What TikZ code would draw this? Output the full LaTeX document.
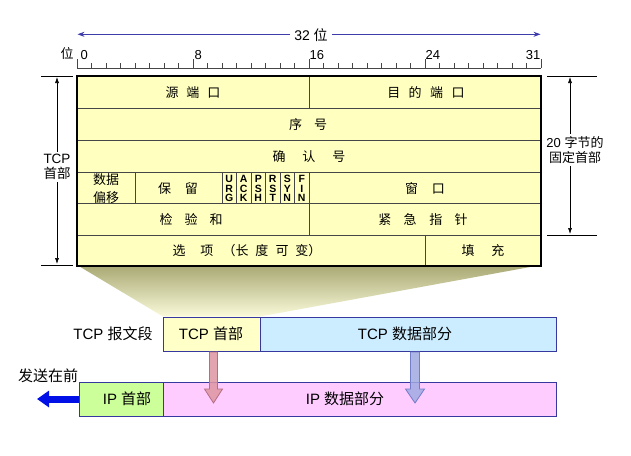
\documentclass[tikz,border=0pt]{standalone}
\usepackage{fontspec}
\setmainfont{Liberation Sans}
\newfontfamily\cjk{Noto Sans CJK SC}
\usetikzlibrary{arrows.meta,calc}
\definecolor{tblfill}{RGB}{255,255,192}
\definecolor{shadetop}{RGB}{168,168,115}
\definecolor{shadebot}{RGB}{250,250,218}
\definecolor{bitblue}{RGB}{60,60,170}
\definecolor{boxline}{RGB}{55,55,160}
\definecolor{tcphfill}{RGB}{255,255,200}
\definecolor{tcpdfill}{RGB}{204,236,255}
\definecolor{iphfill}{RGB}{204,255,153}
\definecolor{ipdfill}{RGB}{255,204,255}
\definecolor{pinkarr}{RGB}{222,150,162}
\definecolor{pinkedge}{RGB}{180,110,130}
\definecolor{bluearr}{RGB}{160,170,226}
\definecolor{blueedge}{RGB}{115,125,200}
\definecolor{sendblue}{RGB}{0,16,230}
\definecolor{innerline}{RGB}{70,70,70}
\newcommand\gapp[1]{\hspace{#1pt}}
\tikzset{
  cell/.style={font=\fontsize{13}{16}\selectfont\cjk, inner sep=0pt},
  flagtxt/.style={font=\fontsize{10.5}{9.2}\selectfont\bfseries, align=center, inner sep=0pt},
  rulerlbl/.style={font=\fontsize{13}{15}\selectfont, inner sep=1pt},
  dimlbl/.style={font=\fontsize{13.5}{15.5}\selectfont, align=center, inner sep=2pt},
  biglbl/.style={font=\fontsize{15}{17}\selectfont, inner sep=0pt},
  dimarrow/.style={-{Latex[length=6pt,width=4pt]}, line width=0.6pt},
  bitarrow/.style={-{Stealth[length=7pt,width=5pt]}, line width=0.7pt, bitblue},
  pkt/.style={draw=boxline, line width=1.2pt, anchor=north west, minimum height=34.5pt, inner sep=0pt},
  inner/.style={innerline, line width=0.7pt}
}
\begin{document}
\begin{tikzpicture}[x=1pt,y=-1pt]
\useasboundingbox[fill=white] (0,0) rectangle (631,455);

% funnel shadow
\shade[top color=shadetop, bottom color=shadebot] (77,265) -- (541,265) -- (260,316.5) -- (163,316.5) -- cycle;

% 32 bit arrow
\node[font=\fontsize{14}{16}\selectfont, inner sep=4pt] (bits32) at (311,35) {32 {\cjk 位}};
\coordinate (b32l) at (77.5,34.3);
\coordinate (b32r) at (540.5,34.3);
\draw[bitarrow] (bits32.west |- b32l) -- (b32l);
\draw[bitarrow] (bits32.east |- b32r) -- (b32r);

% ruler
\draw[line width=0.7pt, innerline] (77,68) -- (541,68);
\foreach \i in {0,...,32}{
  \pgfmathsetmacro\xx{77+\i*14.5}
  \draw[line width=0.5pt, innerline] (\xx,63) -- (\xx,68);
}
\foreach \i in {0,8,16,24,32}{
  \pgfmathsetmacro\xx{77+\i*14.5}
  \draw[line width=0.6pt, innerline] (\xx,59) -- (\xx,68);
}
\node[rulerlbl, font=\fontsize{13}{15}\selectfont\cjk] (wei) at (67,54) {位};
\node[rulerlbl, anchor=west] (l0) at (79.5,55) {0};
\node[rulerlbl, anchor=west] (l8) at (193.5,55) {8};
\node[rulerlbl, anchor=west] (l16) at (308.5,55) {16};
\node[rulerlbl, anchor=west] (l24) at (424.5,55) {24};
\node[rulerlbl, anchor=east] (l31) at (541.5,55) {31};

% table
\coordinate (tl) at (77,76);
\coordinate (br) at (541,266);
\fill[tblfill] (tl) rectangle (br);
\foreach \y in {108,140,172,203.5,235}{
  \draw[inner] (77,\y) -- (541,\y);
}
\draw[inner] (309,76) -- (309,108);
\draw[inner] (309,172) -- (309,235);
\draw[inner] (425,235) -- (425,266);
\foreach \i in {4,10,11,12,13,14,15}{
  \pgfmathsetmacro\xx{77+\i*14.5}
  \draw[inner] (\xx,172) -- (\xx,203.5);
}
\draw[line width=2pt, black] (tl) rectangle (br);

% table texts
\node[cell] (srcport) at (193,93) {源\gapp{8}端\gapp{8}口};
\node[cell] (dstport) at (426,93) {目\gapp{8.5}的\gapp{8.5}端\gapp{8.5}口};
\node[cell] (seq) at (308,125) {序\gapp{12}号};
\node[cell] (ack) at (309,157) {确\gapp{17}认\gapp{17}号};
\node[cell, align=center, font=\fontsize{13}{17.5}\selectfont\cjk] (offset) at (106,188.5) {数据\\偏移};
\node[cell] (resv) at (178,188.5) {保\gapp{14}留};
\foreach \f/\txt [count=\k from 0] in {urg/U\\R\\G, ackf/A\\C\\K, psh/P\\S\\H, rst/R\\S\\T, syn/S\\Y\\N, fin/F\\I\\N}{
  \pgfmathsetmacro\xx{77+(10.5+\k)*14.5}
  \node[flagtxt] (\f) at (\xx,188.5) {\txt};
}
\node[cell] (win) at (425,188.5) {窗\gapp{14}口};
\node[cell] (chk) at (191,220) {检\gapp{12}验\gapp{12}和};
\node[cell] (urgp) at (423,220) {紧\gapp{12.5}急\gapp{12.5}指\gapp{12.5}针};
\node[cell] (opts) at (247,251) {选\gapp{15}项\gapp{9}（长\gapp{7}度\gapp{7}可\gapp{7}变）};
\node[cell] (pad) at (483,251) {填\gapp{17}充};

% left dimension
\coordinate (ltop) at (57,77);
\coordinate (lbot) at (57,264);
\draw[line width=0.6pt] (41,76) -- (73,76);
\draw[line width=0.6pt] (41,265) -- (73,265);
\node[dimlbl] (tcphdr) at (57,167) {TCP\\{\cjk 首部}};
\draw[dimarrow] (tcphdr.north) -- (ltop);
\draw[dimarrow] (tcphdr.south) -- (lbot);

% right dimension
\coordinate (rtop) at (570,77);
\coordinate (rbot) at (570,234);
\draw[line width=0.6pt] (547,76) -- (597,76);
\draw[line width=0.6pt] (547,235) -- (597,235);
\node[dimlbl, font=\fontsize{13}{15.5}\selectfont] (fixhdr) at (575,150) {20 {\cjk 字节的}\\{\cjk 固定首部}};
\draw[dimarrow] (fixhdr.north -| rtop) -- (rtop);
\draw[dimarrow] (fixhdr.south -| rbot) -- (rbot);

% send arrow
\coordinate (sendtip) at (37,399);
\draw[sendblue, line width=7pt, -{Triangle[length=12pt,width=16pt]}] (82,399) -- (sendtip);

% packet boxes
\node[pkt, fill=tcphfill, minimum width=97pt] (tcph) at (163,316.5) {};
\node[pkt, fill=tcpdfill, minimum width=296pt] (tcpd) at (260,316.5) {};
\node[pkt, fill=iphfill, minimum width=84pt] (iph) at (79,381.5) {};
\node[pkt, fill=ipdfill, minimum width=393pt] (ipd) at (163,381.5) {};

\node[biglbl] (seglbl) at (113,334) {TCP {\cjk 报文段}};
\node[biglbl] (tcphl) at (211,334) {TCP {\cjk 首部}};
\node[biglbl] (tcpdl) at (405,334) {TCP {\cjk 数据部分}};
\node[biglbl] (iphl) at (127,399) {IP {\cjk 首部}};
\node[biglbl] (ipdl) at (345,399) {IP {\cjk 数据部分}};
\node[biglbl, font=\fontsize{15}{17}\selectfont\cjk] (sendlbl) at (48,376) {发送在前};

% down arrows
\coordinate (pa) at (213.5,352);
\coordinate (pb) at (213.5,403);
\fill[pinkarr, fill opacity=0.85, draw=pinkedge, line width=0.8pt]
  ($(pa)+(-4,0)$) -- ($(pa)+(4,0)$) -- ($(pb)+(4,-14)$) -- ($(pb)+(9,-14)$) -- (pb)
  -- ($(pb)+(-9,-14)$) -- ($(pb)+(-4,-14)$) -- cycle;
\coordinate (qa) at (415,352);
\coordinate (qb) at (415,403);
\fill[bluearr, fill opacity=0.85, draw=blueedge, line width=0.8pt]
  ($(qa)+(-4.5,0)$) -- ($(qa)+(4.5,0)$) -- ($(qb)+(4.5,-14)$) -- ($(qb)+(9.5,-14)$) -- (qb)
  -- ($(qb)+(-9.5,-14)$) -- ($(qb)+(-4.5,-14)$) -- cycle;
\end{tikzpicture}
\end{document}
